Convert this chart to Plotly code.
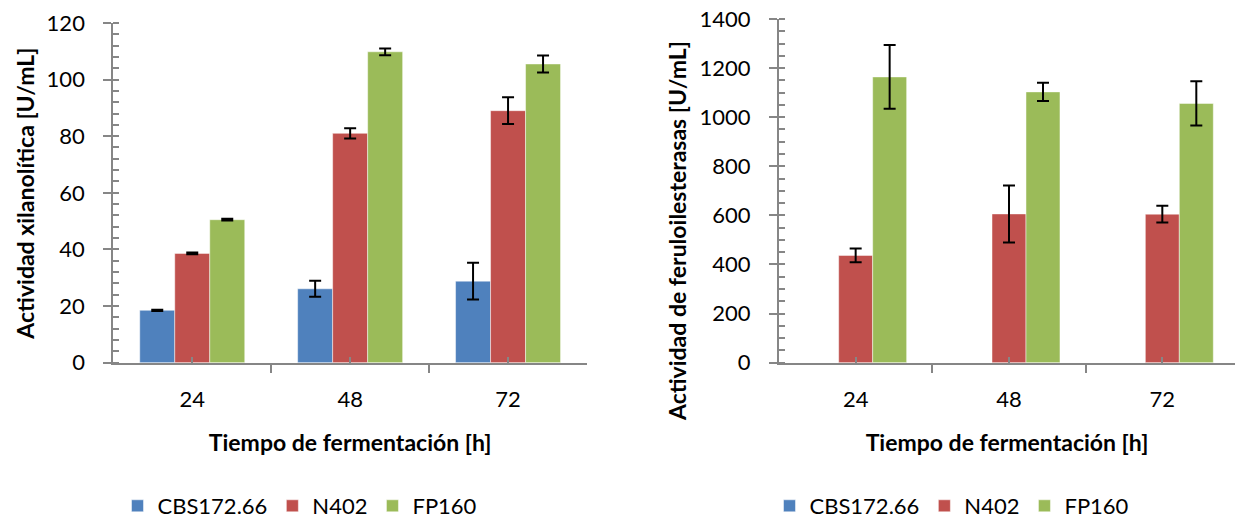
import plotly.graph_objects as go

categories = ["24", "48", "72"]
series = ["CBS172.66", "N402", "FP160"]
colors = ["#4F81BD", "#C0504D", "#9BBB59"]

xil_cbs = [18.5, 26.1, 28.8]
xil_cbs_err = [0.2, 2.8, 6.5]
xil_n402 = [38.6, 81.0, 89.0]
xil_n402_err = [0.3, 1.8, 4.7]
xil_fp160 = [50.5, 109.8, 105.5]
xil_fp160_err = [0.3, 1.2, 3.0]

fae_cbs = [0, 0, 0]
fae_cbs_err = [0, 0, 0]
fae_n402 = [437, 606, 605]
fae_n402_err = [28, 116, 34]
fae_fp160 = [1164, 1103, 1056]
fae_fp160_err = [130, 37, 90]

x_title = "Tiempo de fermentación [h]"
y_title_left = "Actividad xilanolítica [U/mL]"
y_title_right = "Actividad de feruloilesterasas [U/mL]"

FONT = "Lato"
x = list(range(len(categories)))

fig = go.Figure()

left = [(xil_cbs, xil_cbs_err), (xil_n402, xil_n402_err), (xil_fp160, xil_fp160_err)]
right = [(fae_cbs, fae_cbs_err), (fae_n402, fae_n402_err), (fae_fp160, fae_fp160_err)]

for i, (vals, errs) in enumerate(left):
    fig.add_trace(go.Bar(
        x=x, y=vals, name=series[i],
        marker=dict(color=colors[i], line=dict(width=0.8, color="rgba(255,255,255,0.6)")),
        error_y=dict(type="data", array=errs, visible=True, color="black", thickness=2, width=6),
        xaxis="x", yaxis="y", legend="legend", showlegend=True))

for i, (vals, errs) in enumerate(right):
    fig.add_trace(go.Bar(
        x=x, y=vals, name=series[i],
        marker=dict(color=colors[i], line=dict(width=0.8, color="rgba(255,255,255,0.6)")),
        error_y=dict(type="data", array=errs, visible=any(e > 0 for e in errs), color="black", thickness=2, width=6),
        xaxis="x2", yaxis="y2", legend="legend2", showlegend=True))

axcol = "#868686"
tickfont = dict(family=FONT, size=22, color="black")
titlefont = dict(family=FONT, size=23, color="black", weight="bold")
legfont = dict(family=FONT, size=22, color="black")

W, H = 1235, 527


def xaxis(domain, anchor, rng):
    return dict(
        domain=domain, anchor=anchor, range=rng, tickmode="array", tickvals=x, ticktext=categories,
        ticks="inside", ticklen=6, tickcolor=axcol, tickwidth=2,
        minor=dict(tickmode="linear", tick0=-0.5, dtick=1, ticks="outside", ticklen=8, tickcolor=axcol, tickwidth=2),
        showline=True, linecolor=axcol, linewidth=2, showgrid=False, zeroline=False,
        tickfont=tickfont, ticklabelstandoff=16, automargin=False,
        title=dict(text=x_title, font=titlefont, standoff=24))


def yaxis(domain, anchor, rng, dtick, mdtick):
    return dict(
        domain=domain, anchor=anchor, range=rng, dtick=dtick, tick0=0,
        ticks="outside", ticklen=8, tickcolor=axcol, tickwidth=2,
        minor=dict(dtick=mdtick, ticks="inside", ticklen=6, tickcolor=axcol, tickwidth=2),
        showline=True, linecolor=axcol, linewidth=2, showgrid=False, zeroline=False,
        tickfont=tickfont, ticklabelstandoff=14, automargin=False)


fig.update_layout(
    width=W, height=H, margin=dict(l=0, r=0, t=0, b=0),
    paper_bgcolor="white", plot_bgcolor="white",
    barmode="group", bargap=0.335, bargroupgap=0,
    font=dict(family=FONT, size=22, color="black"),
    xaxis=xaxis([113.3 / W, 587 / W], "y", [-0.5, 2.5]),
    yaxis=yaxis([(H - 369) / H, (H - 23.3) / H], "x", [0, 120], 20, 4),
    xaxis2=xaxis([779 / W, 1.0], "y2", [-0.5, 2.474]),
    yaxis2=yaxis([(H - 369) / H, (H - 19.3) / H], "x2", [0, 1400], 200, 50),
    legend=dict(orientation="h", x=300 / W, xanchor="center", y=(H - 515) / H, yanchor="middle",
                font=legfont, itemwidth=30, bgcolor="rgba(0,0,0,0)"),
    legend2=dict(orientation="h", x=952 / W, xanchor="center", y=(H - 515) / H, yanchor="middle",
                 font=legfont, itemwidth=30, bgcolor="rgba(0,0,0,0)"),
    annotations=[
        dict(text=y_title_left, textangle=-90, xref="paper", yref="paper",
             x=25 / W, y=(H - 197) / H, xanchor="center", yanchor="middle",
             showarrow=False, font=titlefont),
        dict(text=y_title_right, textangle=-90, xref="paper", yref="paper",
             x=677 / W, y=(H - 235) / H, xanchor="center", yanchor="middle",
             showarrow=False, font=titlefont),
    ],
)

fig.write_html("out.html")
